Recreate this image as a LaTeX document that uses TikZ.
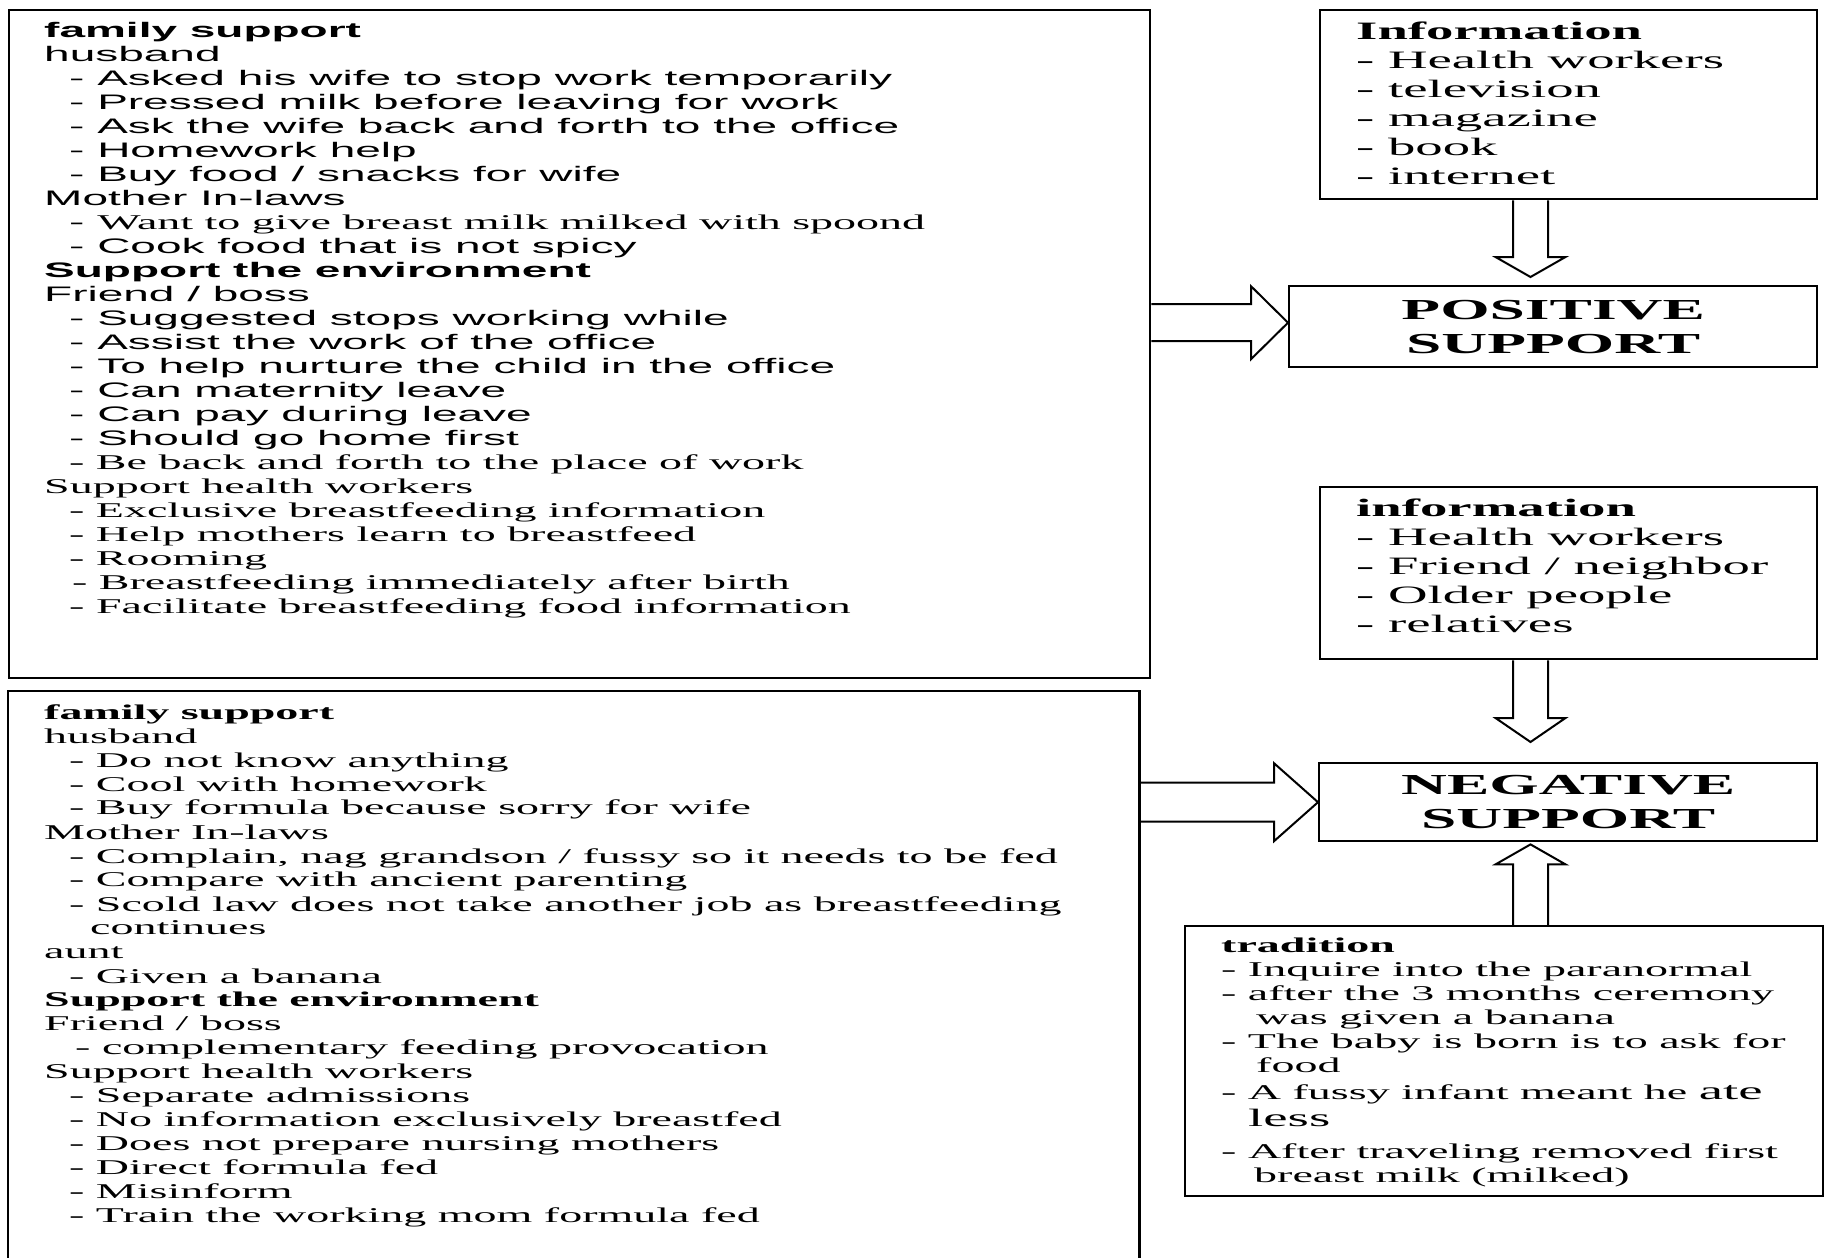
\documentclass[tikz,border=0pt]{standalone}
\usepackage{fontspec}
\setmainfont{Liberation Serif}
\newfontfamily\timesw[FakeStretch=2.19]{Liberation Serif}
\newfontfamily\arialw[FakeStretch=2.19]{Liberation Sans}
\usetikzlibrary{positioning,calc}

\begin{document}
\begin{tikzpicture}[x=1pt, y=-1pt, line join=miter,
                    panel/.style={draw, line width=2.4pt, inner sep=0pt, anchor=north west},
                    listtext/.style={inner sep=0pt, align=left, font=\timesw\fontsize{21}{24}\selectfont},
                    infotext/.style={inner sep=0pt, align=left, font=\timesw\fontsize{25}{29}\selectfont},
                    headtext/.style={align=center, font=\timesw\bfseries\fontsize{29}{33.7}\selectfont},
                    blockarrow/.style={black, line width=2pt}]
  \useasboundingbox (0,0) rectangle (1824,1258);
  \def\ind{\hspace*{25pt}}
  \def\harrow#1#2#3#4#5{ % block arrow to the right: tail, tip, shaft half, head half, head length
    \draw[blockarrow] ($(#1)+(0,-#3)$) -- ($(#2)+(-#5,-#3)$) -- ($(#2)+(-#5,-#4)$) -- (#2)
      -- ($(#2)+(-#5,#4)$) -- ($(#2)+(-#5,#3)$) -- ($(#1)+(0,#3)$);
  }
  \def\varrow#1#2#3{ % vertical block arrow: tail, tip, offset of the head base
    \draw[blockarrow] ($(#1)+(-17.5,0)$) -- ($(#2)+(-17.5,#3)$) -- ($(#2)+(-35,#3)$) -- (#2)
      -- ($(#2)+(35,#3)$) -- ($(#2)+(17.5,#3)$) -- ($(#1)+(17.5,0)$);
  }

  % boxes
  \node[panel, minimum width=1141pt, minimum height=668pt] (posL) at (8,9) {};
  \node[anchor=north west, minimum width=1131pt, minimum height=567pt, inner sep=0pt] (negL) at (8,691) {};
  \draw[line width=2.4pt] (negL.south west) -- (negL.north west) -- (negL.north east) -- (negL.south east);
  \node[panel, minimum width=497pt, minimum height=189pt] (posInfo) at (1319,9) {};
  \node[panel, minimum width=497pt, minimum height=172pt] (negInfo) at (1319,486) {};
  \node[panel, headtext, minimum width=528pt, minimum height=81pt] (posBox) at (1288,285) {POSITIVE\\SUPPORT};
  \node[panel, headtext, minimum width=498pt, minimum height=78pt] (negBox) at (1318,762) {NEGATIVE\\SUPPORT};
  \node[panel, minimum width=638pt, minimum height=270pt] (trad) at (1184,925) {};

  % texts
  \node[listtext, below right=13pt and 36pt of posL.north west] (posLtxt) {%
    {\arialw\bfseries family support}\\
    {\arialw husband}\\
    \ind{\arialw - Asked his wife to stop work temporarily}\\
    \ind{\arialw - Pressed milk before leaving for work}\\
    \ind{\arialw - Ask the wife back and forth to the office}\\
    \ind{\arialw - Homework help}\\
    \ind{\arialw - Buy food / snacks for wife}\\
    {\arialw Mother In-laws}\\
    \ind{\arialw - }Want to give breast milk milked with spoond\\
    \ind{\arialw - Cook food that is not spicy}\\
    {\arialw\bfseries Support the environment}\\
    {\arialw Friend / boss}\\
    \ind{\arialw - Suggested stops working while}\\
    \ind{\arialw - Assist the work of the office}\\
    \ind{\arialw - To help nurture the child in the office}\\
    \ind{\arialw - Can maternity leave}\\
    \ind{\arialw - Can pay during leave}\\
    \ind{\arialw - Should go home first}\\
    \ind - Be back and forth to the place of work\\
    Support health workers\\
    \ind - Exclusive breastfeeding information\\
    \ind - Help mothers learn to breastfeed\\
    \ind - Rooming\\
    \hspace*{28pt}- Breastfeeding immediately after birth\\
    \ind - Facilitate breastfeeding food information};
  \node[listtext, below right=13pt and 36pt of negL.north west] (negLtxt) {%
    \textbf{family support}\\
    husband\\
    \ind - Do not know anything\\
    \ind - Cool with homework\\
    \ind - Buy formula because sorry for wife\\
    Mother In-laws\\
    \ind - Complain, nag grandson / fussy so it needs to be fed\\
    \ind - Compare with ancient parenting\\
    \ind - Scold law does not take another job as breastfeeding\\
    \hspace*{46pt}continues\\
    aunt\\
    \ind - Given a banana\\
    \textbf{Support the environment}\\
    Friend / boss\\
    \hspace*{31pt}- complementary feeding provocation\\
    Support health workers\\
    \ind - Separate admissions\\
    \ind - No information exclusively breastfed\\
    \ind - Does not prepare nursing mothers\\
    \ind - Direct formula fed\\
    \ind - Misinform\\
    \ind - Train the working mom formula fed};
  \node[infotext, below right=13pt and 37pt of posInfo.north west] (posInfotxt) {%
    \textbf{Information}\\
    - Health workers\\
    - television\\
    - magazine\\
    - book\\
    - internet};
  \node[infotext, below right=13pt and 37pt of negInfo.north west] (negInfotxt) {%
    \textbf{information}\\
    - Health workers\\
    - Friend / neighbor\\
    - Older people\\
    - relatives};
  \node[listtext, below right=13pt and 37pt of trad.north west] (tradtxt) {%
    \textbf{tradition}\\
    - Inquire into the paranormal\\
    - after the 3 months ceremony\\
    \hspace*{35pt}was given a banana\\
    - The baby is born is to ask for\\
    \hspace*{35pt}food\\[3pt]
    - A fussy infant meant he {\fontsize{25}{24}\selectfont ate}\\[3pt]
    \hspace*{27pt}{\fontsize{25}{24}\selectfont less}\\[8pt]
    - After traveling removed first\\
    \hspace*{33pt}breast milk (milked)};

  % arrows
  \coordinate (ax) at (1530.5,0);
  \path (posBox.west) ++(0,-4) coordinate (posTip);
  \path (posL.east |- posTip) coordinate (posTail);
  \path (negL.east |- negBox.west) coordinate (negTail);
  \harrow{posTail}{posTip}{18.5}{36.5}{37}
  \harrow{negTail}{negBox.west}{19.5}{39}{44}

  \path (posInfo.south -| ax) coordinate (posInfoOut);
  \path (posBox.north -| ax) ++(0,-8) coordinate (posInfoTip);
  \path (negInfo.south -| ax) coordinate (negInfoOut);
  \path (negBox.north -| ax) ++(0,-20) coordinate (negInfoTip);
  \path (trad.north -| ax) coordinate (tradOut);
  \path (negBox.south -| ax) ++(0,2) coordinate (tradTip);
  \varrow{posInfoOut}{posInfoTip}{-20}
  \varrow{negInfoOut}{negInfoTip}{-24}
  \varrow{tradOut}{tradTip}{20}
\end{tikzpicture}
\end{document}
